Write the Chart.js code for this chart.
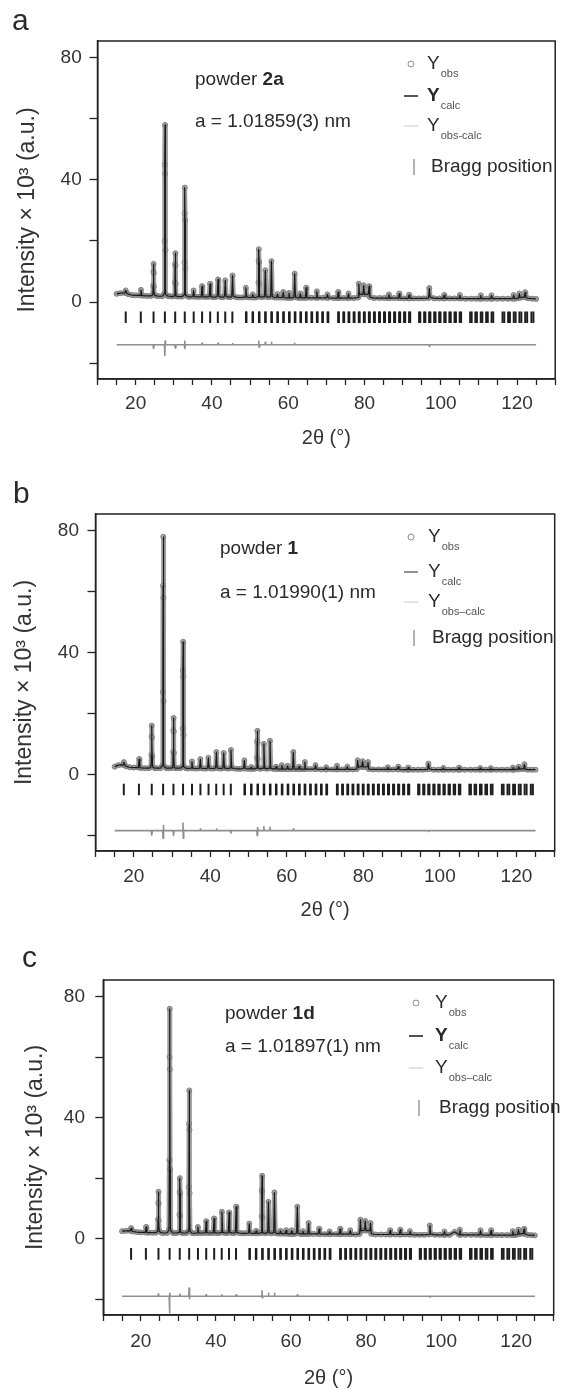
<!DOCTYPE html>
<html lang="en">
<head>
<meta charset="UTF-8">
<title>Rietveld refinement plots</title>
<script src="https://cdn.jsdelivr.net/npm/chart.js@4.4.1/dist/chart.umd.min.js"></script>
<style>
  body { margin: 0; background: #fff; }
  .panel { position: absolute; left: 0; width: 563px; }
  .panel canvas { display: block; }
</style>
</head>
<body>
<div class="panel" style="top:0;height:465px"><canvas id="chartA"></canvas></div>
<div class="panel" style="top:465px;height:470px"><canvas id="chartB"></canvas></div>
<div class="panel" style="top:935px;height:455px"><canvas id="chartC"></canvas></div>
<script>
// 2theta grid shared by the three patterns (deg)
const twoTheta = [
  15, 16, 17.2, 17.4, 17.6, 18, 19, 20,
  21.2, 21.4, 21.6, 22, 23, 24,
  24.5, 24.6, 24.65, 24.7, 24.75, 24.8, 24.9, 25.5, 26, 27,
  27.5, 27.6, 27.65, 27.7, 27.75, 27.8, 27.9, 28.5, 29, 29.6,
  30.2, 30.3, 30.35, 30.4, 30.45, 30.5, 30.6, 31, 31.6, 32.2,
  32.7, 32.8, 32.85, 32.9, 32.95, 33.0, 33.1, 33.6, 34.2,
  35.0, 35.2, 35.4, 36, 36.6,
  37.2, 37.4, 37.6, 38.2, 38.8,
  39.3, 39.5, 39.7, 40.3, 40.9,
  41.4, 41.6, 41.8, 42.4, 43.0,
  43.3, 43.5, 43.7, 44.3, 44.9,
  45.2, 45.4, 45.6, 46.3, 47, 47.8,
  48.7, 48.9, 49.1, 49.8,
  50.5, 50.7, 50.9, 51.5,
  52.1, 52.2, 52.25, 52.3, 52.35, 52.4, 52.5, 53.1,
  53.8, 54.0, 54.2, 54.8,
  55.4, 55.6, 55.8, 56.4,
  57.0, 57.2, 57.4, 58.0,
  58.5, 58.7, 58.9, 59.5,
  60.0, 60.2, 60.4, 61.0,
  61.5, 61.7, 61.9, 62.5,
  63.0, 63.2, 63.4, 64.0,
  64.5, 64.7, 64.9, 66,
  67.3, 67.5, 67.7, 69,
  70.1, 70.3, 70.5, 72,
  72.9, 73.1, 73.3, 74.5,
  75.6, 75.8, 76.0, 77.2,
  78.3, 78.5, 78.7, 79.2,
  79.6, 79.8, 80.0, 80.5,
  81.0, 81.2, 81.4, 82.5, 84, 85.3,
  86.2, 86.4, 86.6, 87.8,
  88.9, 89.1, 89.3, 90.4,
  91.5, 91.7, 91.9, 93, 94.3, 95.5,
  96.8, 97.0, 97.2, 98.3, 99.6,
  100.7, 100.9, 101.1, 102.3, 103.6,
  104.8, 105.0, 105.2, 106.5, 108, 109.3,
  110.3, 110.5, 110.7, 112,
  113.1, 113.3, 113.5, 114.8, 116.2, 117.6,
  118.9, 119.1, 119.3, 119.9,
  120.4, 120.6, 120.8, 121.4,
  121.9, 122.1, 122.3, 123, 124, 125
];

// intensity x10^3, powder 2a
const obsA = [
  2.7, 2.9, 3.0, 3.8, 3.0, 2.6, 2.3, 2.2,
  2.2, 4.0, 2.2, 2.1, 2.0, 2.0,
  2.4, 5.5, 10.0, 12.5, 9.5, 5.0, 2.3, 2.0, 1.9, 1.9,
  2.8, 20, 45, 58, 42, 17, 2.6, 1.9, 1.9, 1.8,
  2.0, 6.5, 12.5, 16.0, 12.0, 6.0, 2.0, 1.8, 1.8, 1.8,
  2.4, 13, 29, 37.5, 27, 11, 2.3, 1.8, 1.7,
  1.8, 3.8, 1.8, 1.7, 1.7,
  1.8, 5.2, 1.8, 1.7, 1.7,
  1.8, 6.0, 1.8, 1.6, 1.6,
  1.9, 7.4, 1.9, 1.6, 1.6,
  1.9, 7.1, 1.9, 1.6, 1.6,
  1.9, 8.7, 1.9, 1.6, 1.5, 1.5,
  1.7, 4.7, 1.7, 1.5,
  1.5, 2.5, 1.5, 1.5,
  1.8, 6.5, 13.5, 17.3, 13.0, 6.0, 1.8, 1.6,
  1.8, 10.4, 1.8, 1.6,
  1.8, 13.4, 1.8, 1.5,
  1.5, 2.6, 1.5, 1.5,
  1.5, 3.3, 1.5, 1.4,
  1.4, 3.0, 1.4, 1.4,
  1.6, 9.3, 1.6, 1.4,
  1.4, 2.8, 1.4, 1.4,
  1.4, 4.7, 1.4, 1.4,
  1.4, 3.5, 1.4, 1.4,
  1.4, 2.5, 1.4, 1.3,
  1.3, 3.3, 1.3, 1.3,
  1.3, 2.8, 1.3, 1.3,
  1.5, 6.0, 2.4, 2.6,
  2.6, 5.5, 2.5, 2.5,
  2.6, 5.2, 1.6, 1.3, 1.3, 1.3,
  1.3, 2.5, 1.3, 1.3,
  1.3, 2.8, 1.3, 1.2,
  1.2, 2.4, 1.2, 1.2, 1.2, 1.2,
  1.3, 4.6, 1.6, 1.2, 1.2,
  1.2, 2.3, 1.2, 1.2, 1.2,
  1.2, 2.3, 1.2, 1.1, 1.1, 1.1,
  1.1, 2.2, 1.1, 1.1,
  1.1, 2.2, 1.1, 1.1, 1.1, 1.1,
  1.1, 2.3, 1.1, 1.2,
  1.3, 2.8, 1.4, 1.6,
  1.6, 3.2, 1.5, 1.2, 1.1, 1.0
];

// intensity x10^3, powder 1
const obsB = [
  2.5, 3.0, 3.1, 4.0, 3.1, 2.6, 2.3, 2.2,
  2.2, 5.0, 2.2, 2.1, 2.0, 2.0,
  2.5, 6.5, 12.5, 16.0, 12.0, 6.0, 2.4, 2.0, 2.0, 2.0,
  3.0, 27, 62, 78, 58, 24, 2.8, 2.0, 2.0, 2.0,
  2.2, 7.5, 14.5, 18.5, 14.0, 7.0, 2.2, 2.0, 2.0, 2.0,
  2.6, 15, 34, 43.5, 32, 13, 2.5, 2.0, 1.9,
  2.0, 4.2, 2.0, 1.9, 1.9,
  2.0, 5.0, 2.0, 1.9, 1.9,
  2.0, 5.4, 2.0, 1.9, 1.9,
  2.1, 7.3, 2.1, 1.9, 1.9,
  2.1, 7.0, 2.1, 1.9, 1.9,
  2.1, 8.0, 2.1, 1.9, 1.8, 1.8,
  1.9, 4.6, 1.9, 1.8,
  1.8, 2.4, 1.8, 1.8,
  2.0, 5.5, 11.0, 14.3, 10.5, 5.0, 2.0, 1.8,
  2.0, 10.0, 2.0, 1.8,
  2.0, 11.0, 2.0, 1.8,
  1.8, 2.5, 1.8, 1.7,
  1.7, 3.0, 1.7, 1.7,
  1.7, 2.8, 1.7, 1.7,
  1.8, 7.3, 1.8, 1.7,
  1.7, 2.5, 1.7, 1.7,
  1.7, 4.0, 1.7, 1.7,
  1.7, 3.0, 1.7, 1.6,
  1.6, 2.3, 1.6, 1.6,
  1.6, 2.8, 1.6, 1.6,
  1.6, 2.5, 1.6, 1.6,
  1.7, 4.6, 2.3, 2.5,
  2.5, 4.3, 2.4, 2.4,
  2.5, 4.0, 1.7, 1.6, 1.6, 1.6,
  1.6, 2.3, 1.6, 1.6,
  1.6, 2.5, 1.6, 1.5,
  1.5, 2.2, 1.5, 1.5, 1.5, 1.5,
  1.6, 3.5, 1.8, 1.5, 1.5,
  1.5, 2.1, 1.5, 1.5, 1.5,
  1.5, 2.2, 1.5, 1.5, 1.5, 1.5,
  1.5, 2.0, 1.5, 1.5,
  1.5, 2.0, 1.5, 1.5, 1.5, 1.5,
  1.5, 2.2, 1.5, 1.6,
  1.6, 2.5, 1.7, 1.8,
  1.8, 3.3, 1.7, 1.5, 1.5, 1.5
];

// intensity x10^3, powder 1d
const obsC = [
  2.5, 2.6, 2.6, 3.5, 2.6, 2.4, 2.2, 2.1,
  2.1, 3.9, 2.1, 2.0, 2.0, 2.0,
  2.5, 6.5, 12.0, 15.5, 11.5, 6.0, 2.4, 2.0, 1.9, 1.9,
  3.0, 26, 60, 76, 56, 23, 2.8, 1.9, 1.9, 1.9,
  2.2, 8.0, 15.5, 20.0, 15.0, 7.5, 2.2, 1.9, 1.9, 1.9,
  2.6, 17, 38, 49, 36, 15, 2.5, 1.9, 1.8,
  1.9, 3.9, 1.9, 1.9, 1.9,
  2.0, 5.8, 2.0, 1.9, 1.9,
  2.0, 6.7, 2.0, 1.9, 1.9,
  2.1, 8.9, 2.1, 1.9, 1.9,
  2.1, 8.7, 2.1, 1.9, 1.9,
  2.1, 10.6, 2.1, 1.9, 1.8, 1.8,
  1.9, 5.0, 1.9, 1.8,
  1.8, 2.6, 1.8, 1.8,
  2.0, 7.5, 16.0, 20.8, 15.5, 7.0, 2.0, 1.8,
  2.0, 12.2, 2.0, 1.8,
  2.0, 15.3, 2.0, 1.7,
  1.7, 2.6, 1.7, 1.7,
  1.7, 2.8, 1.7, 1.6,
  1.6, 2.8, 1.6, 1.6,
  1.8, 10.6, 1.8, 1.6,
  1.6, 2.5, 1.6, 1.6,
  1.6, 5.2, 1.6, 1.6,
  1.6, 3.3, 1.6, 1.5,
  1.5, 2.4, 1.5, 1.5,
  1.5, 3.3, 1.5, 1.5,
  1.5, 2.8, 1.5, 1.4,
  1.6, 6.3, 2.6, 2.8,
  2.8, 5.9, 2.7, 2.7,
  2.7, 5.2, 1.6, 1.4, 1.4, 1.4,
  1.4, 2.8, 1.4, 1.4,
  1.4, 3.0, 1.4, 1.4,
  1.4, 2.5, 1.4, 1.3, 1.3, 1.3,
  1.4, 4.4, 1.6, 1.3, 1.3,
  1.3, 2.4, 1.3, 1.3, 2.3,
  1.3, 3.0, 1.3, 1.3, 1.3, 1.3,
  1.3, 2.8, 1.3, 1.2,
  1.2, 2.8, 1.2, 1.2, 1.2, 1.2,
  1.2, 2.5, 1.2, 1.3,
  1.4, 3.0, 1.5, 1.7,
  1.7, 3.3, 1.6, 1.3, 1.2, 1.1
];

// difference curves (offset below the pattern)
const diffAngle = [
  15,
  24.55, 24.7, 24.85,
  27.55, 27.65, 27.72, 27.85,
  30.25, 30.38, 30.55,
  32.75, 32.86, 32.93, 33.05,
  37.3, 37.4, 37.5,
  41.5, 41.6, 41.7,
  45.3, 45.4, 45.5,
  52.15, 52.28, 52.36, 52.5,
  53.9, 54.0, 54.1,
  55.5, 55.6, 55.7,
  61.6, 61.7, 61.8,
  96.9, 97.0, 97.1,
  125
];
const diffA = [
  -14,
  -14, -15.2, -14,
  -14, -17.5, -12.8, -14,
  -14, -15, -14,
  -14, -12.8, -15.2, -14,
  -14, -13.5, -14,
  -14, -13.5, -14,
  -14, -13.6, -14,
  -14, -12.8, -14.8, -14,
  -14, -13.2, -14,
  -14, -13.2, -14,
  -14, -13.5, -14,
  -14, -14.5, -14,
  -14
];
const diffB = [
  -18.5,
  -18.5, -20, -18.5,
  -18.5, -21, -16.8, -18.5,
  -18.5, -20, -18.5,
  -18.5, -16, -21, -18.5,
  -18.5, -18, -18.5,
  -18.5, -18, -18.5,
  -18.5, -19.3, -18.5,
  -18.5, -20.2, -17.5, -18.5,
  -18.5, -17.2, -18.5,
  -18.5, -17.4, -18.5,
  -18.5, -18, -18.5,
  -18.5, -18.8, -18.5,
  -18.5
];
const diffC = [
  -19,
  -19, -18.2, -19,
  -19, -24.5, -18, -19,
  -19, -18.3, -19,
  -19, -16.3, -19.8, -19,
  -19, -18.5, -19,
  -19, -18.5, -19,
  -19, -18.5, -19,
  -19, -17.2, -19.5, -19,
  -19, -18, -19,
  -19, -18, -19,
  -19, -18.5, -19,
  -19, -19.3, -19,
  -19
];

// Bragg reflection positions (deg), K-alpha1 and the K-alpha2 partners at higher angle
const braggPos = [
  17.40, 21.35, 24.70, 27.67, 30.37, 32.88, 35.22, 37.42, 39.54, 41.55, 43.49, 45.36,
  48.93, 50.65, 52.33, 53.96, 55.58, 57.15, 58.69, 60.22, 61.72, 63.19, 64.65, 66.09,
  67.52, 68.92, 70.32, 73.09, 74.45, 75.81, 77.16, 78.51, 79.84, 81.16, 82.48, 83.81,
  85.12, 86.44, 87.76, 89.08, 90.38, 91.69, 94.32, 95.64, 96.95, 98.28, 99.59, 100.93,
  102.26, 103.61, 104.96, 107.71, 109.07, 110.48, 111.90, 113.32, 116.20, 117.66,
  119.14, 120.62, 122.14, 123.76
];
const braggPosK2 = [
  49.06, 50.78, 52.47, 54.10, 55.73, 57.30, 58.85, 60.38, 61.89, 63.36, 64.83, 66.27,
  67.71, 69.11, 70.52, 73.30, 74.67, 76.03, 77.39, 78.74, 80.08, 81.40, 82.73, 84.06,
  85.38, 86.71, 88.03, 89.36, 90.67, 91.98, 94.63, 95.95, 97.27, 98.61, 99.93, 101.27,
  102.61, 103.97, 105.33, 108.10, 109.47, 110.89, 112.32, 113.75, 116.65, 118.13,
  119.62, 121.12, 122.65, 124.29
];
const braggLevel = -5;

// axis ticks
const xTicks = [10, 15, 20, 25, 30, 35, 40, 45, 50, 55, 60, 65, 70, 75, 80, 85, 90, 95, 100, 105, 110, 115, 120, 125, 130];
const xTickLabels = [20, 40, 60, 80, 100, 120];
const yTicks = [-20, 0, 20, 40, 60, 80];
const yTickLabels = [0, 40, 80];

const FONT = '"Liberation Sans", Arial, Helvetica, sans-serif';
const INK = '#2a2a2a';

// frame, panel letter, sample text and the legend box
const panelDecor = {
  id: 'panelDecor',
  afterDraw(chart, args, o) {
    const { ctx, chartArea: a } = chart;
    ctx.save();
    ctx.strokeStyle = '#222';
    ctx.lineWidth = 1.5;
    ctx.strokeRect(a.left, a.top, a.right - a.left, a.bottom - a.top);

    ctx.fillStyle = INK;
    ctx.textAlign = 'left';
    ctx.textBaseline = 'alphabetic';
    ctx.font = '30px ' + FONT;
    ctx.fillText(o.letter, o.letterX, o.letterY);

    ctx.textBaseline = 'middle';
    ctx.font = '19px ' + FONT;
    ctx.fillText('powder ', o.noteX, o.nameY);
    const w = ctx.measureText('powder ').width;
    ctx.font = 'bold 19px ' + FONT;
    ctx.fillText(o.sample, o.noteX + w, o.nameY);
    ctx.font = '19px ' + FONT;
    ctx.fillText(o.lattice, o.noteX, o.latticeY);

    const sx = o.symX, tx = o.textX, r = o.rows;
    // Y obs
    ctx.strokeStyle = '#8a8a8a';
    ctx.lineWidth = 1;
    ctx.beginPath();
    ctx.arc(sx, r[0], 3, 0, Math.PI * 2);
    ctx.stroke();
    // Y calc
    ctx.strokeStyle = '#555';
    ctx.lineWidth = o.calcBold ? 2 : 1.3;
    ctx.beginPath();
    ctx.moveTo(sx - 7, r[1]); ctx.lineTo(sx + 7, r[1]);
    ctx.stroke();
    // Y obs-calc
    ctx.strokeStyle = '#c8c8c8';
    ctx.lineWidth = 1;
    ctx.beginPath();
    ctx.moveTo(sx - 7, r[2]); ctx.lineTo(sx + 7, r[2]);
    ctx.stroke();
    // Bragg
    ctx.strokeStyle = '#9a9a9a';
    ctx.lineWidth = 1.5;
    ctx.beginPath();
    ctx.moveTo(sx + 3, r[3] - 8); ctx.lineTo(sx + 3, r[3] + 8);
    ctx.stroke();

    const subs = ['obs', 'calc', o.diffSub];
    subs.forEach((s, i) => {
      ctx.font = ((i === 1 && o.calcBold) ? 'bold ' : '') + '19px ' + FONT;
      ctx.fillStyle = INK;
      ctx.fillText('Y', tx, r[i]);
      const yw = ctx.measureText('Y').width;
      ctx.font = '11px ' + FONT;
      ctx.fillStyle = '#555';
      ctx.fillText(s, tx + yw + 1, r[i] + 10);
    });
    ctx.font = '19px ' + FONT;
    ctx.fillStyle = INK;
    ctx.fillText('Bragg position', tx + 4, r[3]);
    ctx.restore();
  }
};

function buildPanel(id, p) {
  const obsPts = twoTheta.map((t, i) => ({ x: t, y: p.obs[i] }));
  const diffPts = diffAngle.map((t, i) => ({ x: t, y: p.diff[i] }));
  const braggPts = braggPos.concat(braggPosK2).map(t => ({ x: t, y: braggLevel }));

  new Chart(document.getElementById(id), {
    type: 'line',
    data: {
      datasets: [
        { label: 'Ycalc', data: obsPts, borderColor: '#1a1a1a', borderWidth: 1.2, pointRadius: 0,
          borderJoinStyle: 'round', order: 1 },
        { label: 'Yobs', data: obsPts, borderColor: 'rgba(150,150,150,0.9)', borderWidth: 5,
          borderJoinStyle: 'round', borderCapStyle: 'round',
          pointRadius: 2.5, pointBorderColor: '#808080', pointBackgroundColor: 'rgba(255,255,255,0)',
          pointBorderWidth: 1, order: 2 },
        { label: 'Yobs-calc', data: diffPts, borderColor: '#8f8f8f', borderWidth: 1.6, pointRadius: 0,
          borderJoinStyle: 'round', order: 3 },
        { label: 'Bragg position', data: braggPts, showLine: false, pointStyle: 'line', pointRotation: 90,
          pointRadius: 5.8, pointBorderColor: '#1e1e1e', pointBorderWidth: 2, order: 4 }
      ]
    },
    options: {
      responsive: true,
      maintainAspectRatio: false,
      animation: false,
      events: [],
      layout: { padding: { top: p.top, right: 563 - p.right, left: 0, bottom: p.bottomPad } },
      plugins: {
        legend: { display: false },
        tooltip: { enabled: false },
        panelDecor: p.decor
      },
      scales: {
        x: {
          type: 'linear',
          min: 10,
          max: 130,
          afterBuildTicks: s => { s.ticks = xTicks.map(v => ({ value: v })); },
          afterFit: s => { s.height = p.xAxisH; },
          grid: { drawOnChartArea: false, drawTicks: true, tickLength: 6, tickColor: '#222', tickWidth: 1.3 },
          border: { display: true, color: '#222', width: 1.5 },
          ticks: {
            autoSkip: false, maxRotation: 0, padding: p.xTickPad, color: '#333',
            font: { family: FONT, size: 19 },
            callback: v => xTickLabels.includes(v) ? String(v) : ''
          },
          title: { display: true, text: '2θ (°)', color: '#333', font: { family: FONT, size: 20 }, padding: 0 }
        },
        y: {
          min: -25.2,
          max: 85.5,
          afterBuildTicks: s => { s.ticks = yTicks.map(v => ({ value: v })); },
          afterFit: s => { s.width = p.left; },
          grid: { drawOnChartArea: false, drawTicks: true, tickLength: 8, tickColor: '#222', tickWidth: 1.3 },
          border: { display: true, color: '#222', width: 1.5 },
          ticks: {
            padding: p.yTickPad, color: '#333',
            font: { family: FONT, size: 19 },
            callback: v => yTickLabels.includes(v) ? String(v) : ''
          },
          title: { display: true, text: 'Intensity × 10³ (a.u.)', color: '#333',
            font: { family: FONT, size: 23 }, padding: { top: p.yTitlePad, bottom: 0 } }
        }
      }
    },
    plugins: [panelDecor]
  });
}

buildPanel('chartA', {
  obs: obsA, diff: diffA,
  top: 41, left: 97.5, right: 559, bottomPad: 15, xAxisH: 71,
  xTickPad: 7.6, yTickPad: 7.8, yTitlePad: 14.2,
  decor: { letter: 'a', letterX: 12, letterY: 30, noteX: 195, nameY: 80, latticeY: 122,
    sample: '2a', lattice: 'a = 1.01859(3) nm', symX: 411, textX: 427,
    rows: [64, 96, 126, 167], calcBold: true, diffSub: 'obs-calc' }
});

buildPanel('chartB', {
  obs: obsB, diff: diffB,
  top: 49, left: 95.5, right: 557, bottomPad: 13, xAxisH: 71,
  xTickPad: 8.3, yTickPad: 8.5, yTitlePad: 11.2,
  decor: { letter: 'b', letterX: 13, letterY: 38, noteX: 220, nameY: 84, latticeY: 128,
    sample: '1', lattice: 'a = 1.01990(1) nm', symX: 411, textX: 428,
    rows: [72, 107, 137, 173], calcBold: false, diffSub: 'obs–calc' }
});

buildPanel('chartC', {
  obs: obsC, diff: diffC,
  top: 45, left: 103.3, right: 560, bottomPad: 0, xAxisH: 75,
  xTickPad: 9.3, yTickPad: 10.3, yTitlePad: 22.2,
  decor: { letter: 'c', letterX: 22, letterY: 32, noteX: 225, nameY: 79, latticeY: 112,
    sample: '1d', lattice: 'a = 1.01897(1) nm', symX: 416, textX: 435,
    rows: [68, 101, 133, 173], calcBold: true, diffSub: 'obs–calc' }
});
</script>
</body>
</html>
